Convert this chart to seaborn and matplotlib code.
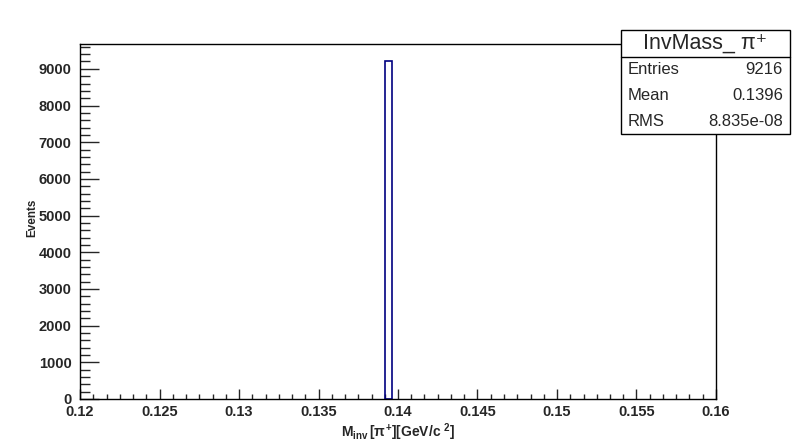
import numpy as np
import matplotlib
matplotlib.use('Agg')
import matplotlib.pyplot as plt
import seaborn as sns
from matplotlib.ticker import MultipleLocator
from matplotlib.patches import Rectangle

# datos del histograma
masa = [0.13957]
cuentas = [9216]
n_bins = 100
rango_x = (0.12, 0.16)
ticks_x = [0.12, 0.125, 0.13, 0.135, 0.14, 0.145, 0.15, 0.155, 0.16]
etiquetas_x = ['0.12', '0.125', '0.13', '0.135', '0.14', '0.145', '0.15', '0.155', '0.16']
ticks_y = [0, 1000, 2000, 3000, 4000, 5000, 6000, 7000, 8000, 9000]
stats_nombres = ['Entries', 'Mean', 'RMS']
stats_valores = ['9216', '0.1396', '8.835e-08']
titulo = 'InvMass_ π⁺'

sns.set_style('ticks')
plt.rcParams['font.family'] = ['Liberation Sans', 'DejaVu Sans']
plt.rcParams['mathtext.fontset'] = 'custom'
plt.rcParams['mathtext.rm'] = 'Liberation Sans:bold'
plt.rcParams['mathtext.it'] = 'Liberation Sans:bold'
plt.rcParams['mathtext.bf'] = 'Liberation Sans:bold'

fig = plt.figure(figsize=(7.96, 4.45), dpi=100)
ax = fig.add_axes([80/796, 46/445, 636/796, 355/445])

sns.histplot(x=masa, weights=cuentas, bins=n_bins, binrange=rango_x,
             fill=False, element='bars', color='#000080', edgecolor='#000080',
             linewidth=1.2, ax=ax)
# bins vacios no se dibujan (si no, pintan la base en azul)
for p in ax.patches:
    if p.get_height() == 0:
        p.set_visible(False)

ax.set_xlim(rango_x)
ax.set_ylim(0, max(cuentas) * 1.05)
ax.set_xticks(ticks_x)
ax.set_xticklabels(etiquetas_x)
ax.set_yticks(ticks_y)
ax.set_yticklabels([str(t) for t in ticks_y])
ax.xaxis.set_minor_locator(MultipleLocator(0.005 / 6))
ax.yaxis.set_minor_locator(MultipleLocator(200))

for s in ax.spines.values():
    s.set_linewidth(1.0)
    s.set_color('black')
    s.set_visible(True)

ax.tick_params(axis='y', which='major', direction='in', length=14, width=1, pad=6, labelsize=10.5)
ax.tick_params(axis='y', which='minor', direction='in', length=7.3, width=1)
ax.tick_params(axis='x', which='major', direction='in', length=7.5, width=1, pad=4, labelsize=10.5)
ax.tick_params(axis='x', which='minor', direction='in', length=3.8, width=1)
for lab in ax.get_xticklabels() + ax.get_yticklabels():
    lab.set_fontweight('bold')

ax.set_xlabel(r'$\mathrm{M_{inv}}\,[\pi^{+}][\mathrm{GeV/c}\ ^{2}]$', fontsize=10)
ax.xaxis.set_label_coords(0.5, -0.062)
ax.set_ylabel('Events', fontsize=8.5, fontweight='bold')
ax.yaxis.set_label_coords(-0.066, 0.51)

# caja de estadisticas
x0, x1 = 621/796, 790/796
y_top, y_sep, y_bot = 1 - 30/445, 1 - 57/445, 1 - 134/445
fig.patches.append(Rectangle((x0, y_bot), x1 - x0, y_top - y_bot, transform=fig.transFigure,
                             facecolor='white', edgecolor='black', linewidth=1.0, zorder=5))
fig.add_artist(plt.Line2D([x0, x1], [y_sep, y_sep], transform=fig.transFigure,
                          color='black', linewidth=1.0, zorder=6))
fig.text((x0 + x1) / 2, 1 - 43/445, titulo, ha='center', va='center', fontsize=15.5, zorder=7)
for i, (n, v) in enumerate(zip(stats_nombres, stats_valores)):
    yy = 1 - (70 + 25.7 * i) / 445
    fig.text(628/796, yy, n, ha='left', va='center', fontsize=12, zorder=7)
    fig.text(783/796, yy, v, ha='right', va='center', fontsize=12, zorder=7)

fig.savefig('out.png', dpi=100, facecolor='white')
